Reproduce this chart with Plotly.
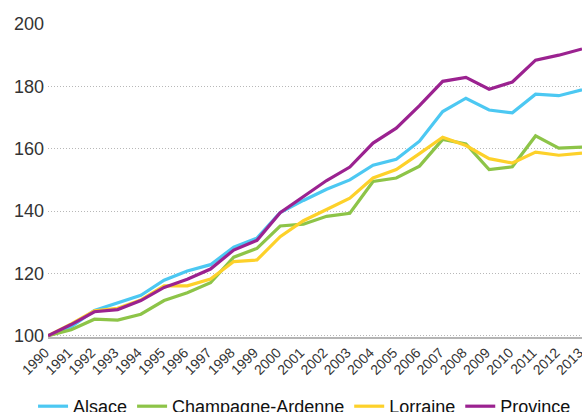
import plotly.graph_objects as go

years = list(range(1990, 2014))
alsace = [100, 102.9, 108.1, 110.6, 113.0, 117.8, 120.8, 122.8, 128.4, 131.3, 139.5, 143.4,
          147.0, 150.0, 154.7, 156.6, 162.4, 171.9, 176.2, 172.4, 171.5, 177.5, 177.0, 178.9]
champagne = [100, 101.9, 105.3, 105.0, 106.9, 111.3, 113.8, 117.0, 125.2, 128.0, 135.2, 135.8,
             138.3, 139.3, 149.5, 150.6, 154.4, 163.0, 161.5, 153.3, 154.2, 164.1, 160.2, 160.5]
lorraine = [100, 103.8, 108.0, 108.8, 111.5, 116.0, 116.0, 118.2, 123.8, 124.3, 131.8, 136.9,
            140.5, 144.1, 150.6, 153.3, 158.4, 163.7, 161.0, 156.8, 155.4, 158.9, 157.9, 158.6]
province = [100, 103.6, 107.7, 108.4, 111.3, 115.5, 118.1, 121.4, 127.5, 130.6, 139.5, 144.8,
            149.8, 154.1, 161.8, 166.6, 173.8, 181.6, 182.9, 179.1, 181.4, 188.4, 190.0, 192.0]

series = [
    ("Alsace", alsace, "#4cc8f2"),
    ("Champagne-Ardenne", champagne, "#8dc448"),
    ("Lorraine", lorraine, "#fdd12a"),
    ("Province", province, "#9b2290"),
]
y_ticks = [100, 120, 140, 160, 180, 200]

fig = go.Figure()
for name, vals, color in series:
    fig.add_trace(go.Scatter(x=years, y=vals, name=name, mode="lines",
                             line=dict(color=color, width=3.2)))

font = "Liberation Sans, Arial, sans-serif"
fig.update_layout(
    width=582, height=412,
    margin=dict(l=48, r=0, t=24, b=75, autoexpand=False),
    paper_bgcolor="white", plot_bgcolor="white",
    font=dict(family=font, color="#333333"),
    showlegend=True,
    legend=dict(orientation="h", x=-0.028, xanchor="left", y=-0.222, yanchor="middle",
                font=dict(size=18, color="#111111"), bgcolor="rgba(0,0,0,0)",
                itemwidth=30),
    xaxis=dict(range=[1990, 2013], tickmode="array", tickvals=years,
               ticktext=[str(y) for y in years], tickangle=-45,
               tickfont=dict(size=14, color="#333333"),
               ticklabeloverflow="allow", ticklabelshift=-3,
               showgrid=False, zeroline=False, showline=True,
               linecolor="#b5b5b5", linewidth=2, ticks="", automargin=False),
    yaxis=dict(range=[99.6, 200], tickmode="array", tickvals=y_ticks,
               tickfont=dict(size=18, color="#333333"),
               showgrid=True, gridcolor="#b8b8b8", gridwidth=1, griddash="1px,2px",
               zeroline=False, showline=False, ticks="", automargin=False,
               ticklabelstandoff=3),
)
fig.write_html("out.html", config={"displayModeBar": False},
               post_script="document.body.style.margin='0';document.body.style.overflow='hidden';")
